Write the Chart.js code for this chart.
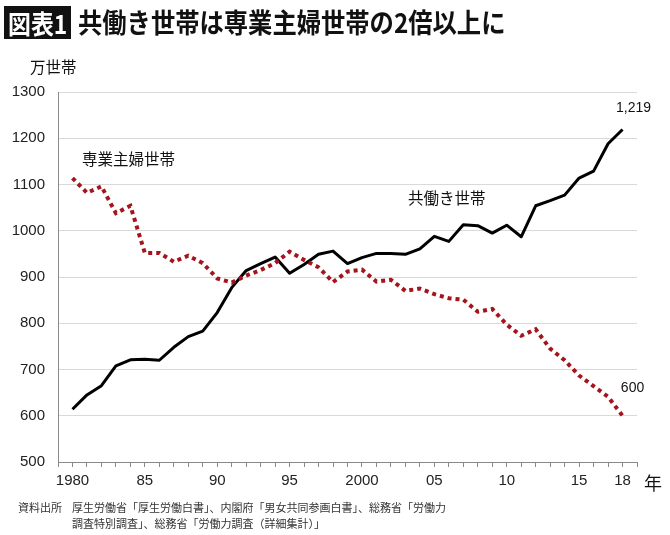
<!DOCTYPE html>
<html lang="ja">
<head>
<meta charset="utf-8">
<script src="https://cdn.jsdelivr.net/npm/chart.js@4.4.0/dist/chart.umd.min.js"></script>
<style>
  body{margin:0;background:#fff;}
  #page{position:relative;width:670px;height:535px;overflow:hidden;font-family:"Noto Sans CJK JP","Noto Sans",sans-serif;color:#111;}
  #chart{position:absolute;left:0;top:0;}
  .badge{position:absolute;left:4px;top:6px;width:67px;height:33px;background:#111;}
  .badge span{position:absolute;left:4px;top:0;color:#fff;font-weight:bold;font-size:26px;line-height:33px;transform:scaleX(0.88);transform-origin:0 50%;white-space:nowrap;}
  .title{position:absolute;left:78px;top:4px;font-weight:bold;font-size:27px;line-height:36px;transform:scaleX(0.9);transform-origin:0 50%;white-space:nowrap;}
  .src{position:absolute;font-size:11px;line-height:14px;color:#333;white-space:nowrap;}
</style>
</head>
<body>
<div id="page">
  <canvas id="chart" width="670" height="535"></canvas>
  <div class="badge"><span>図表1</span></div>
  <div class="title">共働き世帯は専業主婦世帯の2倍以上に</div>
  <div class="src" style="left:18px;top:500px;">資料出所</div>
  <div class="src" style="left:72px;top:500px;">厚生労働省「厚生労働白書」、内閣府「男女共同参画白書」、総務省「労働力</div>
  <div class="src" style="left:72px;top:516px;">調査特別調査」、総務省「労働力調査（詳細集計）」</div>
</div>
<script>
/* data (万世帯) */
const years = [1980,1981,1982,1983,1984,1985,1986,1987,1988,1989,
               1990,1991,1992,1993,1994,1995,1996,1997,1998,1999,
               2000,2001,2002,2003,2004,2005,2006,2007,2008,2009,
               2010,2011,2012,2013,2014,2015,2016,2017,2018];
const tomobataraki = [614,645,665,708,721,722,720,748,771,783,
                      823,877,914,929,943,908,927,949,956,929,
                      942,951,951,949,961,988,977,1013,1011,995,
                      1012,987,1054,1065,1077,1114,1129,1188,1219];
const sengyoShufu = [1114,1082,1096,1038,1054,952,952,933,946,930,
                     897,888,903,915,930,955,937,921,889,912,
                     916,890,894,870,875,863,854,851,825,831,
                     797,773,787,745,720,687,664,641,600];
const xTickLabels = {1980:'1980',1985:'85',1990:'90',1995:'95',2000:'2000',2005:'05',2010:'10',2015:'15',2018:'18'};
const yTicks = [500,600,700,800,900,1000,1100,1200,1300];

const toPoints = vals => years.map((y,i)=>({x:y, y:vals[i]}));

/* extra texts drawn on the canvas */
const textPlugin = {
  id:'texts',
  afterDraw(chart){
    const ctx = chart.ctx, xs = chart.scales.x, ys = chart.scales.y;
    const jp = '"Noto Sans CJK JP", sans-serif';
    ctx.save();
    ctx.fillStyle = '#111';
    ctx.textBaseline = 'middle';
    ctx.textAlign = 'left';
    ctx.font = '15.5px ' + jp;
    ctx.fillText('万世帯', 30, 67);
    ctx.fillText('専業主婦世帯', 82, 159);
    ctx.fillText('共働き世帯', 408, 198);
    ctx.font = '18px ' + jp;
    ctx.fillText('年', 644, 483);
    // end value labels next to the last points
    const last = years.length - 1;
    ctx.textAlign = 'center';
    ctx.font = '14px "Liberation Sans", sans-serif';
    ctx.fillText('1,219', xs.getPixelForValue(years[last]) + 11, ys.getPixelForValue(tomobataraki[last]) - 21);
    ctx.fillText('600', xs.getPixelForValue(years[last]) + 10, ys.getPixelForValue(sengyoShufu[last]) - 28);
    ctx.restore();
  }
};

new Chart(document.getElementById('chart'), {
  type:'line',
  data:{
    datasets:[
      {label:'専業主婦世帯', data:toPoints(sengyoShufu), borderColor:'#a5141c', borderWidth:4,
       borderDash:[4,4], borderCapStyle:'butt', pointRadius:0, tension:0},
      {label:'共働き世帯', data:toPoints(tomobataraki), borderColor:'#000', borderWidth:3,
       borderJoinStyle:'round', pointRadius:0, tension:0}
    ]
  },
  options:{
    responsive:false,
    animation:false,
    events:[],
    layout:{padding:{left:0, top:92, right:33, bottom:0}},
    plugins:{legend:{display:false}, tooltip:{enabled:false}},
    scales:{
      x:{
        type:'linear', min:1979, max:2019,
        afterFit:s=>{ s.height = 73; },
        afterBuildTicks:s=>{ s.ticks = []; for(let y=1979;y<=2019;y++) s.ticks.push({value:y}); },
        ticks:{autoSkip:false, maxRotation:0, padding:5, color:'#222',
               font:{family:'"Liberation Sans", sans-serif', size:15},
               callback:v=>xTickLabels[v] || ''},
        grid:{drawOnChartArea:false, drawTicks:true, tickLength:5, color:'#8a8a8a'},
        border:{color:'#8a8a8a', width:1}
      },
      y:{
        min:500, max:1300,
        afterFit:s=>{ s.width = 58; },
        afterBuildTicks:s=>{ s.ticks = yTicks.map(v=>({value:v})); },
        ticks:{padding:13, color:'#222', font:{family:'"Liberation Sans", sans-serif', size:15},
               callback:v=>String(v)},
        grid:{color:'#d9d9d9', drawTicks:false},
        border:{color:'#8a8a8a', width:1}
      }
    }
  },
  plugins:[textPlugin]
});
</script>
</body>
</html>
